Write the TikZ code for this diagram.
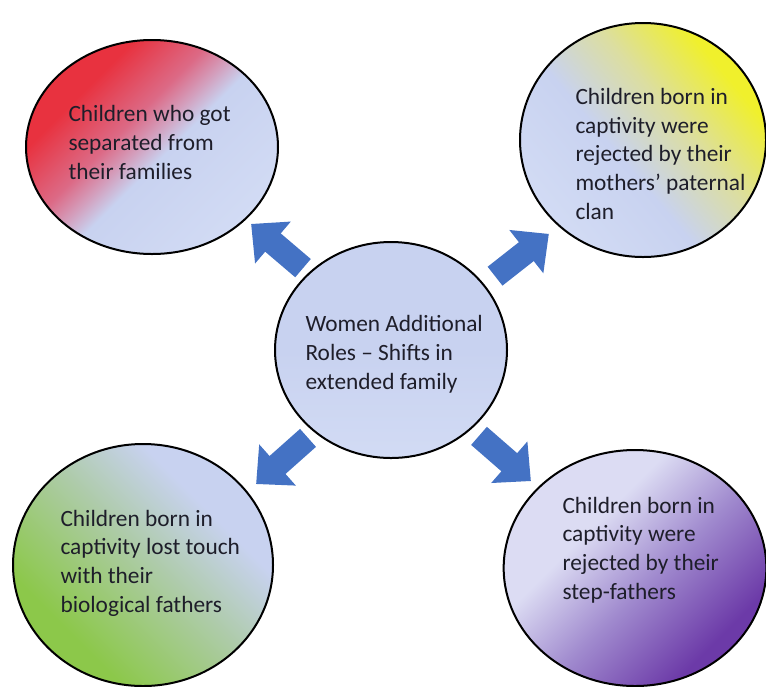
\documentclass[tikz,border=0pt]{standalone}
\usepackage{fontspec}
\setmainfont{Carlito}
\usetikzlibrary{shapes.geometric,arrows.meta}

\definecolor{arrowblue}{HTML}{4472C4}
\definecolor{arrowedge}{HTML}{2F5597}
\definecolor{textdark}{HTML}{1E1E2A}
\definecolor{paleblue}{HTML}{C8D2F0}
\definecolor{paleblueLt}{HTML}{D2DBF4}
\definecolor{redcorner}{HTML}{E8323F}
\definecolor{redmid}{HTML}{DC6A86}
\definecolor{redpink}{HTML}{D49CBA}
\definecolor{yellowcorner}{HTML}{F0F02C}
\definecolor{yellowmid}{HTML}{DCDEA0}
\definecolor{greencorner}{HTML}{8CC84A}
\definecolor{greenmid}{HTML}{AECBAA}
\definecolor{purplecorner}{HTML}{6C3AA8}
\definecolor{purplemid}{HTML}{A08ACE}
\definecolor{lavender}{HTML}{DCDCF3}

% shadings: position 25bp = lower edge, 75bp = upper edge
\pgfdeclareverticalshading{separatedfade}{100bp}{color(0bp)=(paleblueLt); color(25bp)=(paleblueLt); color(47bp)=(paleblue); color(52bp)=(redpink); color(57bp)=(redmid); color(69bp)=(redcorner); color(100bp)=(redcorner)}
\pgfdeclareverticalshading{clanfade}{100bp}{color(0bp)=(paleblueLt); color(25bp)=(paleblueLt); color(44bp)=(paleblue); color(58bp)=(yellowmid); color(72bp)=(yellowcorner); color(100bp)=(yellowcorner)}
\pgfdeclareverticalshading{fatherfade}{100bp}{color(0bp)=(greencorner); color(30bp)=(greencorner); color(52bp)=(greenmid); color(67bp)=(paleblue); color(75bp)=(paleblue); color(100bp)=(paleblue)}
\pgfdeclareverticalshading{stepfade}{100bp}{color(0bp)=(purplecorner); color(28bp)=(purplecorner); color(46bp)=(purplemid); color(62bp)=(lavender); color(75bp)=(lavender); color(100bp)=(lavender)}
\pgfdeclareverticalshading{rolesfade}{100bp}{color(0bp)=(paleblueLt); color(25bp)=(paleblueLt); color(50bp)=(paleblue); color(100bp)=(paleblue)}

\tikzset{every picture/.style={line width=0.75pt}}
\tikzset{
  bubble/.style={ellipse, draw=black, line width=1.5pt, inner sep=0pt, outer sep=0pt, shade},
  caption/.style={anchor=base west, align=left, inner sep=0pt, text=textdark, font=\fontsize{17.5}{21.4}\selectfont},
  blockarrow/.style={color=arrowblue, line width=18pt, shorten <=1pt, shorten >=1.1pt, -{Triangle[length=21.5pt,width=40pt]},
    preaction={color=arrowedge, line width=19.5pt, shorten <=0pt, shorten >=0pt, -{Triangle[length=23pt,width=43pt]}}}
}

\begin{document}
\begin{tikzpicture}[x=0.75pt,y=0.75pt,yscale=-1,xscale=1]
\path[fill=white] (0,0) rectangle (766,686);
\useasboundingbox (0,0) rectangle (766,686);

%Ellipses
\node[bubble, shading=rolesfade, minimum width=174pt, minimum height=162pt] (roles) at (391,350) {};
\node[bubble, shading=separatedfade, shading angle=45, minimum width=189pt, minimum height=160.5pt] (separated) at (152,147) {};
\node[bubble, shading=clanfade, shading angle=-50, minimum width=184.5pt, minimum height=175.5pt] (clan) at (643,140) {};
\node[bubble, shading=fatherfade, shading angle=-45, minimum width=195pt, minimum height=181.5pt] (fathers) at (143,565) {};
\node[bubble, shading=stepfade, shading angle=45, minimum width=197pt, minimum height=177pt] (stepfathers) at (635,568) {};

%Block arrows
\coordinate (sepTail) at (304,269);
\coordinate (sepTip) at (250,223);
\coordinate (clanTail) at (494,277);
\coordinate (clanTip) at (550,233);
\coordinate (fathTail) at (309,437);
\coordinate (fathTip) at (255,485);
\coordinate (stepTail) at (478,435);
\coordinate (stepTip) at (532,482);
\draw[blockarrow] (sepTail) -- (sepTip);
\draw[blockarrow] (clanTail) -- (clanTip);
\draw[blockarrow] (fathTail) -- (fathTip);
\draw[blockarrow] (stepTail) -- (stepTip);

% Text Node (anchor on the last line's baseline)
\node[caption] (rolesText) at (305,389) {Women Additional\\Roles -- Shifts in\\extended family};
% Text Node
\node[caption] (separatedText) at (68,179) {Children who got\\separated from\\their families};
% Text Node
\node[caption] (clanText) at (575,219) {Children born in\\captivity were\\rejected by their\\mothers' paternal\\clan};
% Text Node
\node[caption] (fathersText) at (60,612) {Children born in\\captivity lost touch\\with their\\biological fathers};
% Text Node
\node[caption] (stepText) at (562,599) {Children born in\\captivity were\\rejected by their\\step-fathers};

\end{tikzpicture}
\end{document}
